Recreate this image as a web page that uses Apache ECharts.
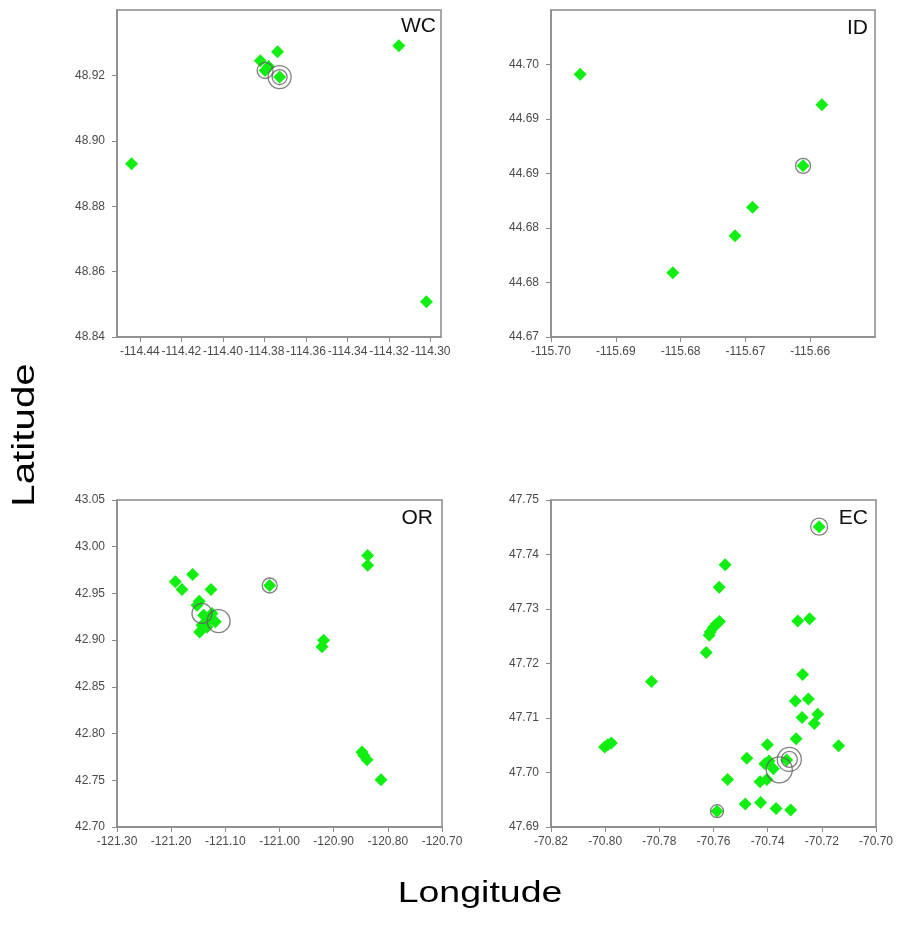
<!DOCTYPE html>
<html>
<head>
<meta charset="utf-8">
<script src="https://cdn.jsdelivr.net/npm/echarts@6/dist/echarts.min.js"></script>
<style>
html,body{margin:0;padding:0;background:#fff;}
#c1{width:897px;height:926px;}
</style>
</head>
<body>
<div id="c1"></div>
<script>
var chart = echarts.init(document.getElementById('c1'));

// panel names
var panels = ['WC', 'ID', 'OR', 'EC'];

// WC
var wcLon = [-114.444, -114.382, -114.3737, -114.3797, -114.378, -114.3727, -114.3153, -114.302];
var wcLat = [48.893, 48.9245, 48.9272, 48.9215, 48.9227, 48.9195, 48.9291, 48.8508];
var wcRing = [[-114.3797, 48.9215, 16], [-114.3727, 48.9195, 15], [-114.3727, 48.9195, 23]];
var wcXTicks = [-114.44, -114.42, -114.40, -114.38, -114.36, -114.34, -114.32, -114.30];
var wcYTicks = [48.84, 48.86, 48.88, 48.90, 48.92];

// ID
var idLon = [-115.6955, -115.6582, -115.6611, -115.6689, -115.6716, -115.6812];
var idLat = [44.6941, 44.6913, 44.6857, 44.6819, 44.6793, 44.6759];
var idRing = [[-115.6611, 44.6857, 15]];
var idXTicks = [-115.70, -115.69, -115.68, -115.67, -115.66];
var idYTicks = [44.670, 44.675, 44.680, 44.685, 44.690, 44.695];
var idYLabels = ['44.67', '44.68', '44.68', '44.69', '44.69', '44.70'];

// OR
var orLon = [-121.1604, -121.1800, -121.1923, -121.1265, -121.1481, -121.1523, -121.1401, -121.1246,
  -121.1328, -121.1185, -121.1431, -121.1475, -121.1338, -121.0181, -120.8372, -120.8372,
  -120.9185, -120.9215, -120.8477, -120.8446, -120.8385, -120.8126];
var orLat = [42.9703, 42.9543, 42.9625, 42.9543, 42.9417, 42.9374, 42.9267, 42.9286,
  42.9196, 42.9196, 42.9160, 42.9088, 42.9142, 42.9585, 42.9906, 42.9802,
  42.9000, 42.8928, 42.7803, 42.7768, 42.7721, 42.7507];
var orRing = [[-121.0181, 42.9585, 15], [-121.1431, 42.9286, 20], [-121.1125, 42.9203, 23]];
var orXTicks = [-121.30, -121.20, -121.10, -121.00, -120.90, -120.80, -120.70];
var orYTicks = [42.70, 42.75, 42.80, 42.85, 42.90, 42.95, 43.00, 43.05];

// EC
var ecLon = [-70.7210, -70.7557, -70.7579, -70.7578, -70.7590, -70.7600, -70.7612, -70.7616,
  -70.7627, -70.7829, -70.8002, -70.7990, -70.7977, -70.7289, -70.7245, -70.7271,
  -70.7298, -70.7250, -70.7273, -70.7215, -70.7228, -70.7295, -70.7138, -70.7401,
  -70.7477, -70.7410, -70.7395, -70.7379, -70.7330, -70.7428, -70.7403, -70.7548,
  -70.7483, -70.7426, -70.7369, -70.7315, -70.7587];
var ecLat = [47.7451, 47.7381, 47.7340, 47.7277, 47.7272, 47.7266, 47.7258, 47.7252,
  47.7220, 47.7167, 47.7047, 47.7051, 47.7054, 47.7278, 47.7282, 47.7180,
  47.7131, 47.7135, 47.7101, 47.7107, 47.7090, 47.7062, 47.7049, 47.7051,
  47.7026, 47.7016, 47.7021, 47.7007, 47.7023, 47.6983, 47.6987, 47.6987,
  47.6942, 47.6945, 47.6934, 47.6931, 47.6929];
var ecRing = [[-70.7210, 47.7451, 17], [-70.7587, 47.6929, 13], [-70.7320, 47.7024, 16],
  [-70.7320, 47.7024, 24], [-70.7357, 47.7005, 26]];
var ecXTicks = [-70.82, -70.80, -70.78, -70.76, -70.74, -70.72, -70.70];
var ecYTicks = [47.69, 47.70, 47.71, 47.72, 47.73, 47.74, 47.75];

function pairs(a, b) {
  return a.map(function (v, i) { return [v, b[i]]; });
}

function fmt(ticks, labels) {
  return function (v) {
    var best = 0;
    for (var i = 0; i < ticks.length; i++) {
      if (Math.abs(ticks[i] - v) < Math.abs(ticks[best] - v)) best = i;
    }
    return labels ? labels[best] : ticks[best].toFixed(2);
  };
}

function axis(idx, pos, min, max, ticks, labels) {
  return {
    type: 'value', gridIndex: idx, position: pos, min: min, max: max, scale: true,
    splitLine: { show: false },
    axisLine: { show: true, onZero: false, lineStyle: { color: '#8a8a8a', width: 1.5 } },
    axisTick: { show: true, length: 5, customValues: ticks, lineStyle: { color: '#8a8a8a' } },
    axisLabel: {
      customValues: ticks, formatter: fmt(ticks, labels),
      color: '#4a4a4a', fontSize: 12, fontFamily: 'Liberation Sans',
      margin: pos === 'left' ? 12 : 9
    }
  };
}

var grids = [
  { left: 117, top: 10, width: 324, height: 327 },
  { left: 551, top: 10, width: 324, height: 327 },
  { left: 117, top: 500, width: 325, height: 327 },
  { left: 551, top: 500, width: 325, height: 327 }
];
grids.forEach(function (g) { g.show = true; g.borderColor = '#8a8a8a'; g.borderWidth = 1.5; });

var green = '#11ee11';
var points = [pairs(wcLon, wcLat), pairs(idLon, idLat), pairs(orLon, orLat), pairs(ecLon, ecLat)];
var rings = [wcRing, idRing, orRing, ecRing];

var series = [];
points.forEach(function (d, i) {
  series.push({
    type: 'scatter', xAxisIndex: i, yAxisIndex: i, data: d,
    symbol: 'diamond', symbolSize: 13, itemStyle: { color: green, opacity: 1 }
  });
});
rings.forEach(function (d, i) {
  series.push({
    type: 'scatter', xAxisIndex: i, yAxisIndex: i, data: d, z: 3,
    symbol: 'circle', symbolSize: function (v) { return v[2]; },
    itemStyle: { color: 'rgba(0,0,0,0)', borderColor: '#606060', borderWidth: 1.3 }
  });
});

var labelPos = [[436, 26], [868, 28], [433, 518], [868, 518]];

var option = {
  animation: false,
  backgroundColor: '#fff',
  grid: grids,
  xAxis: [
    axis(0, 'bottom', -114.451, -114.295, wcXTicks),
    axis(1, 'bottom', -115.70, -115.65, idXTicks),
    axis(2, 'bottom', -121.30, -120.70, orXTicks),
    axis(3, 'bottom', -70.82, -70.70, ecXTicks)
  ],
  yAxis: [
    axis(0, 'left', 48.84, 48.94, wcYTicks),
    axis(1, 'left', 44.67, 44.70, idYTicks, idYLabels),
    axis(2, 'left', 42.70, 43.05, orYTicks),
    axis(3, 'left', 47.69, 47.75, ecYTicks)
  ],
  graphic: panels.map(function (p, i) {
    return {
      type: 'text', x: labelPos[i][0], y: labelPos[i][1],
      style: { text: p, fill: '#111', font: '21px "Liberation Sans"', align: 'right', verticalAlign: 'middle' }
    };
  }).concat([
    {
      type: 'text', x: 25, y: 435, rotation: Math.PI / 2, scaleX: 1.3,
      style: { text: 'Latitude', fill: '#000', font: '31px "Liberation Sans"', align: 'center', verticalAlign: 'middle' }
    },
    {
      type: 'text', x: 480, y: 894, scaleX: 1.25,
      style: { text: 'Longitude', fill: '#000', font: '30px "Liberation Sans"', align: 'center', verticalAlign: 'middle' }
    }
  ]),
  series: series
};
chart.setOption(option);
</script>
</body>
</html>
